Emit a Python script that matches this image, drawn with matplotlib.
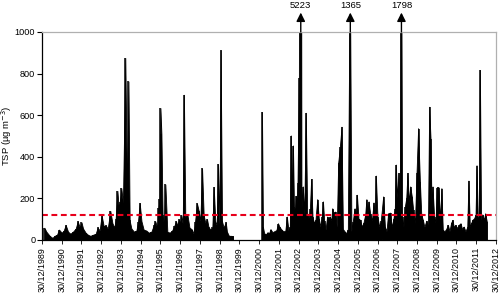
import numpy as np
import pandas as pd
import matplotlib
matplotlib.use("Agg")
import matplotlib.pyplot as plt
import matplotlib.dates as mdates
from datetime import datetime

plt.rcParams['font.family'] = ['Liberation Sans', 'DejaVu Sans']
plt.rcParams['lines.scale_dashes'] = False

# ---- data (decimal year, TSP µg m-3) ----
seg1_year = [1990.12, 1990.22, 1990.39, 1990.53, 1990.64, 1990.76, 1990.86, 1991.00, 1991.10, 1991.20,
             1991.32, 1991.44, 1991.57, 1991.71, 1991.81, 1991.91, 1992.00, 1992.08, 1992.21, 1992.33,
             1992.45, 1992.58, 1992.72, 1992.82, 1992.92, 1993.02, 1993.13, 1993.23, 1993.33, 1993.46,
             1993.57, 1993.67, 1993.73, 1993.82, 1993.89, 1993.94, 1994.02, 1994.10, 1994.22, 1994.31,
             1994.38, 1994.44, 1994.53, 1994.66, 1994.78, 1994.86, 1994.95, 1995.04, 1995.15, 1995.29,
             1995.41, 1995.54, 1995.66, 1995.74, 1995.83, 1995.90, 1995.95, 1996.00, 1996.05, 1996.11,
             1996.18, 1996.25, 1996.35, 1996.47, 1996.59, 1996.69, 1996.79, 1996.86, 1996.93, 1996.99,
             1997.06, 1997.13, 1997.19, 1997.26, 1997.37, 1997.47, 1997.60, 1997.68, 1997.75, 1997.85,
             1997.94, 1998.02, 1998.11, 1998.19, 1998.28, 1998.36, 1998.44, 1998.55, 1998.63, 1998.70,
             1998.78, 1998.85, 1998.92, 1998.99, 1999.05, 1999.12, 1999.20, 1999.31, 1999.37, 1999.47,
             1999.57, 1999.68]
seg1_tsp = [59, 40, 20, 10, 20, 25, 50, 35, 45, 72,
            40, 30, 40, 55, 90, 60, 85, 55, 35, 25,
            20, 25, 30, 60, 45, 118, 65, 70, 55, 140,
            80, 60, 100, 236, 150, 183, 249, 178, 875, 199,
            762, 94, 55, 40, 45, 85, 178, 90, 50, 45,
            35, 40, 70, 90, 60, 152, 196, 634, 510, 118,
            70, 267, 40, 35, 45, 65, 90, 70, 99, 80,
            120, 75, 698, 110, 120, 60, 50, 30, 85, 176,
            140, 90, 344, 120, 80, 100, 60, 50, 60, 255,
            90, 70, 365, 75, 912, 90, 60, 85, 40, 20,
            20, 18]

seg2_year = [2001.17, 2001.22, 2001.28, 2001.37, 2001.45, 2001.53, 2001.60, 2001.70, 2001.80, 2001.90,
             2001.98, 2002.06, 2002.14, 2002.24, 2002.35, 2002.43, 2002.51, 2002.58, 2002.63, 2002.68,
             2002.74, 2002.79, 2002.84, 2002.89, 2002.94, 2002.97, 2003.04, 2003.11, 2003.17, 2003.24,
             2003.31, 2003.39, 2003.46, 2003.55, 2003.60, 2003.66, 2003.73, 2003.80, 2003.88, 2003.97,
             2004.05, 2004.13, 2004.20, 2004.26, 2004.32, 2004.39, 2004.47, 2004.54, 2004.61, 2004.68,
             2004.73, 2004.79, 2004.88, 2004.96, 2005.03, 2005.12, 2005.20, 2005.27, 2005.35, 2005.44,
             2005.52, 2005.62, 2005.70, 2005.77, 2005.86, 2005.93, 2005.98, 2006.06, 2006.14, 2006.23,
             2006.31, 2006.40, 2006.46, 2006.51, 2006.57, 2006.65, 2006.74, 2006.82, 2006.89, 2006.94,
             2007.02, 2007.11, 2007.19, 2007.31, 2007.40, 2007.48, 2007.56, 2007.66, 2007.75, 2007.83,
             2007.90, 2007.95, 2008.02, 2008.09, 2008.16, 2008.21, 2008.27, 2008.34, 2008.41, 2008.48,
             2008.54, 2008.61, 2008.68, 2008.76, 2008.83, 2008.92, 2009.00, 2009.08, 2009.17, 2009.24,
             2009.32, 2009.40, 2009.49, 2009.58, 2009.64, 2009.71, 2009.76, 2009.81, 2009.89, 2009.96,
             2010.03, 2010.11, 2010.20, 2010.26, 2010.33, 2010.42, 2010.50, 2010.59, 2010.67, 2010.75,
             2010.82, 2010.89, 2010.97, 2011.06, 2011.14, 2011.23, 2011.31, 2011.39, 2011.48, 2011.57,
             2011.63, 2011.70, 2011.77, 2011.83, 2011.92, 2011.99, 2012.04, 2012.11, 2012.16, 2012.21,
             2012.27, 2012.34, 2012.41, 2012.48, 2012.56]
seg2_tsp = [613, 60, 30, 25, 35, 30, 50, 35, 40, 45,
            78, 60, 50, 40, 40, 110, 45, 60, 500, 200,
            452, 160, 130, 210, 170, 274, 779, 5223, 150, 255,
            120, 609, 126, 90, 150, 291, 110, 80, 94, 194,
            100, 62, 110, 183, 90, 46, 110, 100, 110, 90,
            150, 130, 134, 60, 368, 449, 542, 50, 40, 30,
            50, 1365, 40, 86, 150, 110, 215, 100, 94, 62,
            80, 120, 194, 120, 183, 126, 90, 178, 110, 307,
            110, 62, 90, 207, 60, 40, 126, 129, 60, 100,
            150, 360, 200, 320, 120, 1798, 110, 60, 158, 200,
            320, 180, 255, 207, 142, 78, 320, 535, 279, 120,
            94, 60, 90, 70, 638, 484, 150, 255, 110, 80,
            252, 252, 94, 247, 46, 40, 50, 70, 40, 80,
            94, 60, 70, 55, 70, 78, 50, 62, 40, 60,
            283, 62, 80, 94, 102, 120, 357, 86, 110, 815,
            94, 120, 94, 126, 86]

limit_value = 120
tick_years = list(range(1989, 2013))


def to_dates(years):
    base = pd.Timestamp('1989-12-30')
    return base + pd.to_timedelta((np.asarray(years) - 1990.0) * 365.25, unit='D')


fig = plt.figure(figsize=(5.0, 2.93), dpi=100)
ax = fig.add_axes([0.084, 0.181, 0.908, 0.710])

for yrs, vals in [(seg1_year, seg1_tsp), (seg2_year, seg2_tsp)]:
    d = to_dates(yrs)
    ax.fill_between(d, 0, vals, color='black', lw=0.6, edgecolor='black')
    ax.vlines(d, 0, vals, color='black', lw=1.1)

ax.axhline(limit_value, color='#e8001c', lw=1.5, dashes=(4.2, 2.6))

ax.set_ylim(0, 1000)
ax.set_xlim(datetime(1989, 12, 30), datetime(2012, 12, 30))
ax.set_yticks([0, 200, 400, 600, 800, 1000])
ax.set_xticks([datetime(y, 12, 30) for y in tick_years])
ax.xaxis.set_major_formatter(mdates.DateFormatter('%d/%m/%Y'))
ax.tick_params(axis='x', labelrotation=90, labelsize=6.4, length=3, width=0.6, pad=2)
ax.tick_params(axis='y', labelsize=6.6, length=3.6, width=0.8, pad=1.2)
ax.set_ylabel('TSP (µg m$^{-3}$)', fontsize=6.8)
ax.yaxis.set_label_coords(-0.062, 0.5)

for s in ['left', 'bottom']:
    ax.spines[s].set_color('black')
    ax.spines[s].set_linewidth(0.9)
for s in ['top', 'right']:
    ax.spines[s].set_color('#b0b0b0')
    ax.spines[s].set_linewidth(0.9)

# arrows for values beyond the axis
for yrs, vals in [(seg1_year, seg1_tsp), (seg2_year, seg2_tsp)]:
    d = to_dates(yrs)
    for xd, v in zip(d, vals):
        if v > 1000:
            ax.annotate('', xy=(xd, 1.093), xytext=(xd, 1.0),
                        xycoords=('data', 'axes fraction'), textcoords=('data', 'axes fraction'),
                        arrowprops=dict(arrowstyle='-|>', color='black', lw=1.0,
                                        mutation_scale=13, shrinkA=0, shrinkB=0),
                        annotation_clip=False)
            ax.text(xd, 1.129, str(v), transform=ax.get_xaxis_transform(),
                    ha='center', va='center', fontsize=6.8, clip_on=False)

fig.savefig('out.png', dpi=100)
